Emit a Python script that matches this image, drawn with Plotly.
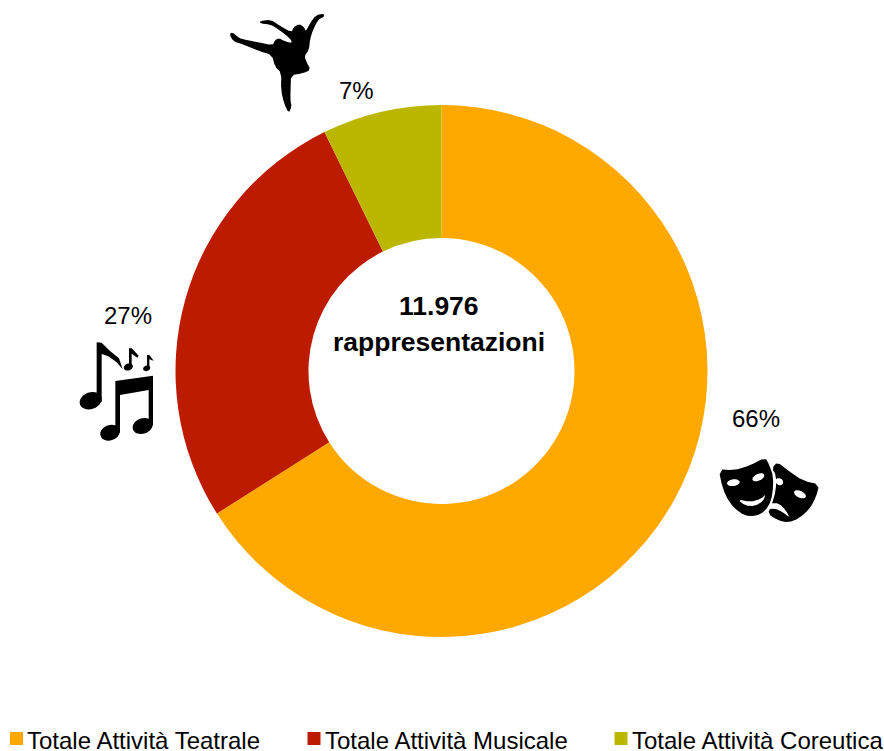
import math
import plotly.graph_objects as go

categories = ["Totale Attività Teatrale", "Totale Attività Musicale", "Totale Attività Coreutica"]
values = [66.0, 26.75, 7.25]
value_labels = ["66%", "27%", "7%"]
colors = ["#FFA900", "#BD1B00", "#BBB700"]
center_lines = ["11.976", "rappresentazioni"]

W, H = 884, 751
FONT = "Liberation Sans, Arial, sans-serif"


def px(x, y):
    return x / W, 1 - y / H


def smooth(points, n=2):
    for _ in range(n):
        out = []
        for i, (x0, y0) in enumerate(points):
            x1, y1 = points[(i + 1) % len(points)]
            out.append((0.75 * x0 + 0.25 * x1, 0.75 * y0 + 0.25 * y1))
            out.append((0.25 * x0 + 0.75 * x1, 0.25 * y0 + 0.75 * y1))
        points = out
    return points


def poly(points, ox, oy, s=3.0):
    parts = []
    for i, (x, y) in enumerate(points):
        a, b = px(ox + x / s, oy + y / s)
        parts.append(("M" if i == 0 else "L") + f"{a:.5f},{b:.5f}")
    return " ".join(parts) + " Z"


def ell(cx, cy, rx, ry, rot=0, n=28):
    t = math.radians(rot)
    pts = []
    for i in range(n):
        a = 2 * math.pi * i / n
        x, y = rx * math.cos(a), ry * math.sin(a)
        pts.append((cx + x * math.cos(t) - y * math.sin(t), cy + x * math.sin(t) + y * math.cos(t)))
    return pts


shapes = []


def add(points, ox, oy, color="black"):
    shapes.append(dict(type="path", xref="paper", yref="paper", path=poly(points, ox, oy),
                       fillcolor=color, line=dict(width=0), layer="above"))


# dancer icon
dancer = [(58, 103), (68, 97), (82, 110), (95, 117), (140, 126), (188, 136), (194, 122), (205, 114), (225, 124),
          (247, 130), (240, 115), (205, 88), (180, 73), (152, 71), (149, 63), (182, 59), (208, 76), (245, 98),
          (250, 82), (268, 72), (283, 82), (287, 95), (300, 70), (318, 45), (342, 41), (342, 51), (325, 58),
          (309, 90), (300, 118), (297, 150), (283, 168), (290, 187), (302, 210), (278, 220), (243, 226), (242, 260),
          (241, 300), (245, 320), (236, 340), (222, 310), (213, 270), (214, 218), (195, 200), (186, 165), (150, 154),
          (95, 132), (70, 124)]
add(smooth(dancer, 1), 210, 0)

# music icon
N = (60, 290)
add([(110, 157), (125, 158), (150, 183), (177, 205), (188, 238), (170, 217), (145, 199), (125, 192), (125, 335), (110, 335)], *N)
add(ell(92, 332, 34, 25, -20), *N)
add([(207, 175), (215, 175), (223, 183), (236, 197), (232, 203), (215, 191), (215, 232), (207, 232)], *N)
add(ell(205, 231, 14, 10, -20), *N)
add([(261, 195), (268, 195), (281, 212), (268, 208), (268, 236), (261, 236)], *N)
add(ell(260, 235, 11, 8, -20), *N)
add([(166, 273), (279, 257), (279, 405), (266, 405), (266, 300), (180, 315), (180, 428), (166, 428)], *N)
add(ell(150, 428, 30, 23, -20), *N)
add(ell(248, 408, 31, 23, -20), *N)

# masks icon
M = (700, 400)
add(smooth([(232, 186), (262, 210), (310, 243), (358, 253), (348, 292), (328, 328), (297, 355), (265, 368), (235, 361),
            (203, 342), (215, 315), (228, 270), (228, 225), (216, 205)], 1), *M)
add(ell(300, 283, 19, 10, 25), *M, "white")
add(ell(238, 245, 12, 10, 30), *M, "white")
add(smooth([(210, 310), (238, 310), (258, 332), (270, 354), (245, 334), (225, 326), (206, 327)], 1), *M, "white")
add(smooth([(56, 208), (100, 211), (150, 197), (195, 172), (208, 195), (220, 230), (218, 282), (206, 320), (182, 343),
            (150, 350), (118, 338), (88, 307), (68, 266)], 1), *M)
add(ell(100, 248, 19, 10, -8), *M, "white")
add(ell(175, 232, 19, 10, -25), *M, "white")
add(smooth([(113, 298), (150, 306), (185, 296), (197, 282), (190, 303), (165, 318), (135, 317)], 1), *M, "white")

annotations = []


def label(text, x, y, size=24, bold=False, anchor="center", height=None):
    a, b = px(x, y)
    annotations.append(dict(text=f"<b>{text}</b>" if bold else text, x=a, y=b, xref="paper", yref="paper",
                            xanchor=anchor, yanchor="middle", showarrow=False, height=height,
                            font=dict(family=FONT, size=size, color="black")))


for text, (x, y) in zip(value_labels, [(756, 418), (128, 315), (356, 91)]):
    label(text, x, y)
for text, y in zip(center_lines, [306, 342]):
    label(text, 438.5, y, size=26.5, bold=True)

for cat, col, x0 in zip(categories, colors, [10, 307.5, 614.5]):
    a0, b0 = px(x0, 732)
    a1, b1 = px(x0 + 13, 745)
    shapes.append(dict(type="rect", xref="paper", yref="paper", x0=a0, x1=a1, y0=b0, y1=b1,
                       fillcolor=col, line=dict(width=0)))
    label(cat, x0 + 15, 739.5, anchor="left", height=20)

fig = go.Figure(go.Pie(
    labels=categories, values=values, hole=0.5, sort=False, direction="clockwise", rotation=0,
    marker=dict(colors=colors, line=dict(width=0)), textinfo="none", hoverinfo="label+percent",
    showlegend=False,
    domain=dict(x=[175.5 / W, 707.5 / W], y=[1 - 637 / H, 1 - 105 / H]),
))
fig.update_layout(width=W, height=H, margin=dict(l=0, r=0, t=0, b=0), paper_bgcolor="white",
                  shapes=shapes, annotations=annotations, font=dict(family=FONT))
fig.write_html("out.html", config=dict(displayModeBar=False),
               post_script="document.body.style.margin='0';document.body.style.overflow='hidden';")
